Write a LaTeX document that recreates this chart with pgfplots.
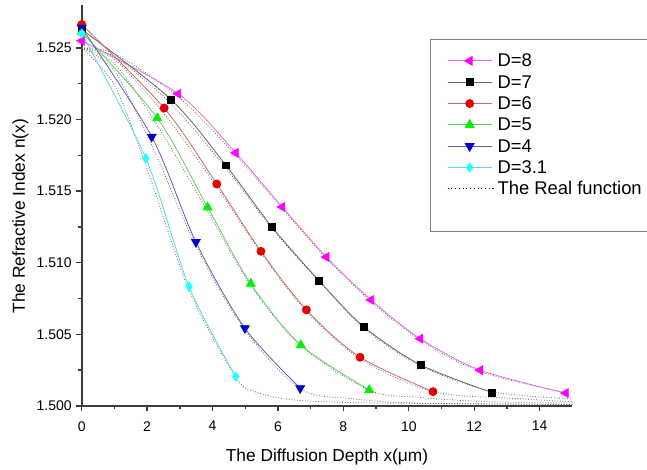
\documentclass[border=0pt]{standalone}
\usepackage{pgfplots}
\pgfplotsset{compat=1.18}
\usepackage{fontspec}
\setmainfont{Liberation Sans}

\definecolor{axgray}{RGB}{60,60,60}
\definecolor{cmag}{RGB}{255,0,255}
\definecolor{cred}{RGB}{230,0,0}
\definecolor{cgreen}{RGB}{0,240,0}
\definecolor{cblue}{RGB}{0,0,205}
\definecolor{ccyan}{RGB}{40,255,255}
\definecolor{lmag}{RGB}{225,110,225}
\definecolor{lblack}{RGB}{100,100,100}
\definecolor{lred}{RGB}{205,105,105}
\definecolor{lgreen}{RGB}{100,205,100}
\definecolor{lblue}{RGB}{95,95,175}
\definecolor{lcyan}{RGB}{90,215,225}

\pgfplotsset{
  real/.style={color=gray!80!black, line width=0.6pt, dash pattern=on 0.6pt off 1.4pt, smooth, tension=0.5, no marks, forget plot},
}

\begin{document}
\begin{tikzpicture}
\begin{axis}[
  scale only axis,
  width=368pt, height=300.75pt,
  xmin=0, xmax=15, ymin=1.5, ymax=1.528,
  axis lines=left,
  x axis line style={-}, y axis line style={-},
  axis line style={line width=1.2pt, color=axgray},
  clip=false,
  xtick={0,2,...,14},
  ytick={1.500,1.505,1.510,1.515,1.520,1.525},
  minor x tick num=1, minor y tick num=1,
  tick align=outside,
  major tick length=4pt, minor tick length=2.5pt,
  tick style={line width=1pt, color=axgray},
  scaled y ticks=false,
  yticklabel style={/pgf/number format/.cd, fixed, fixed zerofill, precision=3},
  xticklabel style={yshift=-4pt},
  /pgf/number format/assume math mode=true,
  tick label style={font=\fontsize{10.5}{12}\selectfont},
  label style={font=\fontsize{13}{15}\selectfont},
  xlabel={The Diffusion Depth x(μm)},
  ylabel={The Refractive Index n(x)},
  x label style={at={(axis description cs:0.5,-0.128)}, anchor=center},
  y label style={at={(axis description cs:-0.125,0.473)}, anchor=center},
  legend style={at={(rel axis cs:0.7098,0.9152)}, anchor=north west,
    draw=gray, line width=0.8pt, font=\fontsize{13.8}{16.5}\selectfont,
    inner xsep=12.5pt, inner ysep=8pt, row sep=0pt,
    cells={anchor=west, text height=10.5pt, text depth=2.5pt, inner sep=2pt}},
  legend image code/.code={\draw[mark repeat=2, mark phase=2] plot coordinates {(0pt,0pt) (16.5pt,0pt) (33pt,0pt)};},
]
% the real functions
\addplot[real] coordinates {(0,1.5250) (1,1.5246) (2.95,1.5216) (4.71,1.5175) (6.13,1.5138) (7.48,1.5103) (8.85,1.5073) (10.35,1.5046) (12.18,1.5024) (14.8,1.5009)};
\addplot[real] coordinates {(0,1.5250) (1,1.5244) (2.73,1.5211) (4.41,1.5166) (5.81,1.5124) (7.26,1.5087) (8.64,1.5054) (10.36,1.5028) (12.55,1.5010) (15,1.5005)};
\addplot[real] coordinates {(0,1.5250) (1,1.5242) (2.52,1.5204) (4.13,1.5153) (5.48,1.5107) (6.87,1.5066) (8.51,1.5033) (10.74,1.5010) (13.4,1.5005) (15,1.5003)};
\addplot[real] coordinates {(0,1.5250) (1,1.5239) (2.31,1.5196) (3.85,1.5136) (5.17,1.5084) (6.70,1.5042) (8.79,1.5011) (10.3,1.5006) (12.4,1.5003) (15,1.5002)};
\addplot[real] coordinates {(0,1.5250) (1,1.5234) (2.14,1.5182) (3.49,1.5112) (4.99,1.5053) (6.68,1.5012) (8.3,1.5005) (10.3,1.5002) (15,1.5001)};
\addplot[real] coordinates {(0,1.5250) (1,1.5224) (1.96,1.5168) (3.28,1.5081) (4.71,1.5020) (5.3,1.5010) (6.2,1.5005) (7.3,1.5003) (9.3,1.5002) (15,1.5001)};

% fitted profiles
\addplot[lmag, line width=0.6pt, smooth, mark=triangle*, mark size=3.8pt, mark options={solid, rotate=90, fill=cmag, draw=cmag}]
  coordinates {(0,1.5255) (2.95,1.5218) (4.71,1.51767) (6.13,1.5139) (7.48,1.5104) (8.85,1.5074) (10.35,1.5047) (12.18,1.5025) (14.8,1.5009)};
\addlegendentry{D=8}
\addplot[lblack, line width=0.6pt, smooth, mark=square*, mark size=2.6pt, mark options={solid, fill=black, draw=black}]
  coordinates {(0,1.5263) (2.73,1.5214) (4.41,1.5168) (5.81,1.51252) (7.26,1.50874) (8.64,1.5055) (10.36,1.50287) (12.55,1.50093)};
\addlegendentry{D=7}
\addplot[lred, line width=0.6pt, smooth, mark=*, mark size=3pt, mark options={solid, fill=cred, draw=cred}]
  coordinates {(0,1.52664) (2.52,1.5208) (4.13,1.5155) (5.48,1.5108) (6.87,1.50671) (8.51,1.5034) (10.74,1.5010)};
\addlegendentry{D=6}
\addplot[lgreen, line width=0.6pt, smooth, mark=triangle*, mark size=3.8pt, mark options={solid, fill=cgreen, draw=cgreen}]
  coordinates {(0,1.5261) (2.31,1.5201) (3.85,1.51387) (5.17,1.50853) (6.70,1.50425) (8.79,1.50112)};
\addlegendentry{D=5}
\addplot[lblue, line width=0.6pt, smooth, mark=triangle*, mark size=3.8pt, mark options={solid, rotate=180, fill=cblue, draw=cblue}]
  coordinates {(0,1.52641) (2.14,1.5188) (3.49,1.51145) (4.99,1.50543) (6.68,1.50124)};
\addlegendentry{D=4}
\addplot[lcyan, line width=0.6pt, smooth, mark=diamond*, mark size=3.4pt, mark options={solid, fill=ccyan, draw=ccyan}]
  coordinates {(0,1.5260) (1.96,1.5173) (3.28,1.50834) (4.71,1.50205)};
\addlegendentry{D=3.1}
\addlegendimage{legend image code/.code={\draw[black, line width=0.8pt, dash pattern=on 0.8pt off 2pt] (0pt,0pt) -- (35pt,0pt);}}
\addlegendentry{The Real function}
\addlegendimage{empty legend}
\addlegendentry{}
\end{axis}
\pgfresetboundingbox
\path[use as bounding box] (-61.3pt,-48pt) rectangle (424pt,304.5pt);
\end{tikzpicture}
\end{document}
